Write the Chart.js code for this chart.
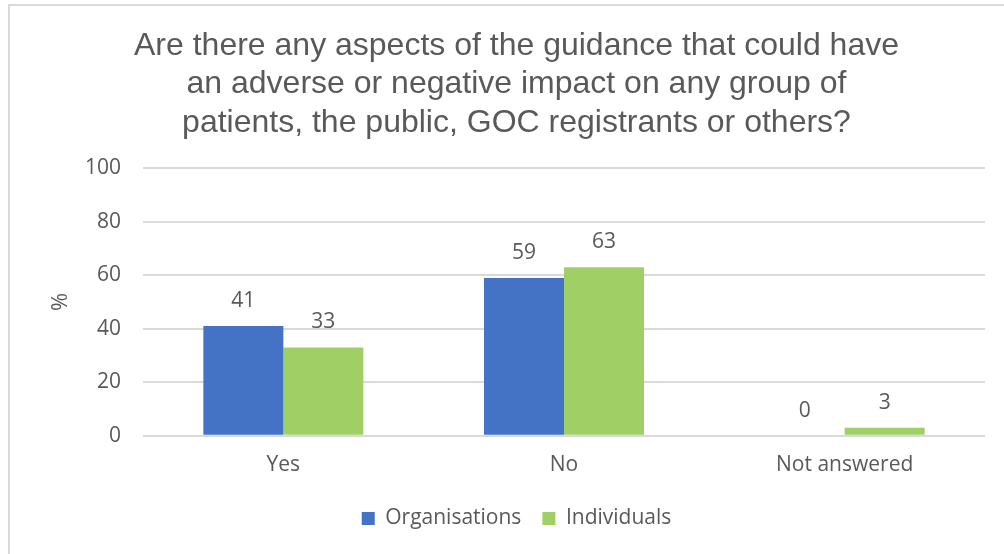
<!DOCTYPE html>
<html lang="en">
<head>
    <meta charset="UTF-8">
    <title>Adverse impact of the guidance</title>
    <style>
        html, body { margin: 0; padding: 0; background: #fff; }
        #wrap { position: relative; width: 1004px; height: 554px; }
    </style>
</head>
<body>
    <div id="wrap"><canvas id="impact-chart" width="1004" height="554"></canvas></div>
    <script src="https://cdn.jsdelivr.net/npm/chart.js"></script>
    <script>
        const categories = ['Yes', 'No', 'Not answered'];
        const organisations = [41, 59, 0];
        const individuals = [33, 63, 3];
        const yTicks = [0, 20, 40, 60, 80, 100];

        const titleLines = [
            'Are there any aspects of the guidance that could have',
            'an adverse or negative impact on any group of',
            'patients, the public, GOC registrants or others?'
        ];

        const textGrey = '#595959';
        const bodyFont = '"Open Sans", "Noto Sans", sans-serif';

        // Draws the value above each bar
        const barValues = {
            id: 'barValues',
            afterDatasetsDraw(chart) {
                const ctx = chart.ctx;
                ctx.save();
                ctx.font = '21px ' + bodyFont;
                ctx.fillStyle = textGrey;
                ctx.textAlign = 'center';
                ctx.textBaseline = 'middle';
                chart.data.datasets.forEach((ds, i) => {
                    chart.getDatasetMeta(i).data.forEach((bar, j) => {
                        ctx.fillText(ds.data[j], bar.x, bar.y - 25);
                    });
                });
                ctx.restore();
            }
        };

        // Light frame along the top and left edges
        const frame = {
            id: 'frame',
            beforeDraw(chart) {
                const ctx = chart.ctx;
                ctx.save();
                ctx.strokeStyle = '#d9d9d9';
                ctx.lineWidth = 2;
                ctx.beginPath();
                ctx.moveTo(9, chart.height);
                ctx.lineTo(9, 5);
                ctx.lineTo(chart.width, 5);
                ctx.stroke();
                ctx.restore();
            }
        };

        new Chart(document.getElementById('impact-chart'), {
            type: 'bar',
            data: {
                labels: categories,
                datasets: [{
                    label: 'Organisations',
                    data: organisations,
                    backgroundColor: '#4472C4'
                }, {
                    label: 'Individuals',
                    data: individuals,
                    backgroundColor: '#A0CF66'
                }]
            },
            options: {
                responsive: false,
                animation: false,
                layout: { padding: { left: 48, right: 19, top: 0, bottom: 15 } },
                datasets: {
                    bar: { categoryPercentage: 0.57, barPercentage: 1.0 }
                },
                plugins: {
                    title: {
                        display: true,
                        text: titleLines,
                        color: textGrey,
                        font: { family: '"Liberation Sans", Arial, sans-serif', size: 32, weight: 'normal', lineHeight: 1.2 },
                        padding: { top: 27, bottom: 26 }
                    },
                    legend: {
                        position: 'bottom',
                        labels: {
                            color: textGrey,
                            font: { family: bodyFont, size: 21 },
                            boxWidth: 13,
                            boxHeight: 13,
                            padding: 21
                        }
                    },
                    tooltip: { enabled: false }
                },
                scales: {
                    x: {
                        grid: { display: false },
                        border: { display: false },
                        ticks: { color: textGrey, font: { family: bodyFont, size: 21 }, padding: 9 }
                    },
                    y: {
                        min: 0,
                        max: 100,
                        afterBuildTicks(scale) {
                            scale.ticks = yTicks.map(v => ({ value: v }));
                        },
                        afterFit(scale) { scale.width = 95; },
                        grid: { color: '#d9d9d9', lineWidth: 2, drawTicks: false },
                        border: { display: false },
                        ticks: { color: textGrey, font: { family: bodyFont, size: 21 }, padding: 22 },
                        title: {
                            display: true,
                            text: '%',
                            color: textGrey,
                            font: { family: bodyFont, size: 22 },
                            padding: 0
                        }
                    }
                }
            },
            plugins: [barValues, frame]
        });
    </script>
</body>
</html>
